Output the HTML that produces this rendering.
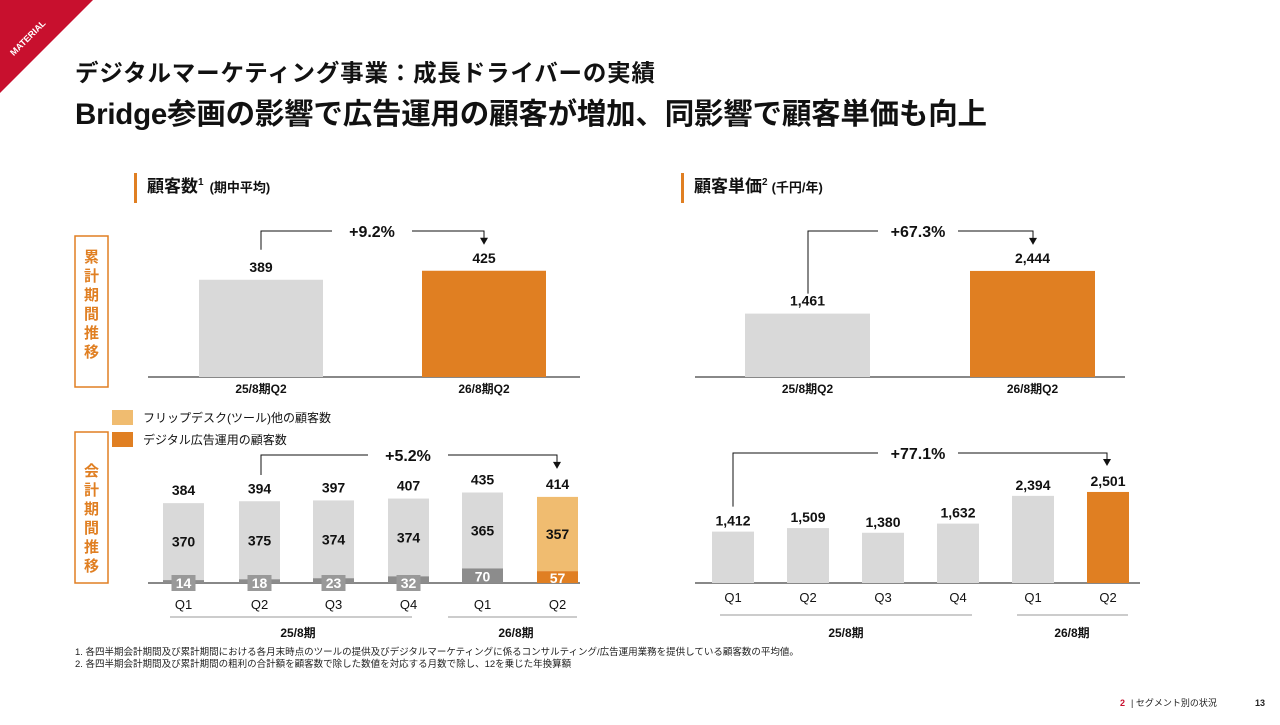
<!DOCTYPE html>
<html><head><meta charset="utf-8">
<style>
html,body{margin:0;padding:0;background:#fff;}
body{width:1280px;height:720px;overflow:hidden;font-family:"Liberation Sans","Noto Sans CJK JP",sans-serif;}
svg text{font-family:"Liberation Sans","Noto Sans CJK JP",sans-serif;}
</style></head><body>
<svg id="s" width="1280" height="720" viewBox="0 0 1280 720" xmlns="http://www.w3.org/2000/svg">
<polygon points="0,0 93,0 0,93" fill="#c8102e"/>
<text x="30" y="40" transform="rotate(-45 30 40)" font-size="9" font-weight="bold" fill="#fff" text-anchor="middle">MATERIAL</text>
<text x="75" y="81" font-size="23.5" font-weight="bold" fill="#111" textLength="580">デジタルマーケティング事業：成長ドライバーの実績</text>
<text x="75" y="124" font-size="29.5" font-weight="bold" fill="#111" textLength="912">Bridge参画の影響で広告運用の顧客が増加、同影響で顧客単価も向上</text>

<rect x="134" y="173" width="3" height="30" fill="#e07f22"/>
<text x="147" y="192" font-size="17" font-weight="bold" fill="#111">顧客数<tspan font-size="10" dy="-7">1</tspan><tspan font-size="13" dy="7" dx="6">(期中平均)</tspan></text>
<rect x="681" y="173" width="3" height="30" fill="#e07f22"/>
<text x="694" y="192" font-size="17" font-weight="bold" fill="#111">顧客単価<tspan font-size="10" dy="-7">2</tspan><tspan font-size="13" dy="7" dx="4">(千円/年)</tspan></text>

<rect x="75" y="236" width="33" height="151" fill="none" stroke="#e07f22" stroke-width="1.5"/>
<text x="91.5" y="262" font-size="15" font-weight="bold" fill="#e07f22" text-anchor="middle"><tspan x="91.5" dy="0">累</tspan><tspan x="91.5" dy="19">計</tspan><tspan x="91.5" dy="19">期</tspan><tspan x="91.5" dy="19">間</tspan><tspan x="91.5" dy="19">推</tspan><tspan x="91.5" dy="19">移</tspan></text>
<rect x="75" y="432" width="33" height="151" fill="none" stroke="#e07f22" stroke-width="1.5"/>
<text x="91.5" y="476" font-size="15" font-weight="bold" fill="#e07f22" text-anchor="middle"><tspan x="91.5" dy="0">会</tspan><tspan x="91.5" dy="19">計</tspan><tspan x="91.5" dy="19">期</tspan><tspan x="91.5" dy="19">間</tspan><tspan x="91.5" dy="19">推</tspan><tspan x="91.5" dy="19">移</tspan></text>

<rect x="112" y="410" width="21" height="15" fill="#f0bc70"/>
<text x="143" y="422" font-size="12" fill="#111">フリップデスク(ツール)他の顧客数</text>
<rect x="112" y="432" width="21" height="15" fill="#e07f22"/>
<text x="143" y="444" font-size="12" fill="#111">デジタル広告運用の顧客数</text>

<g id="charts"></g>

<text x="75" y="655" font-size="9.5" fill="#222">1. 各四半期会計期間及び累計期間における各月末時点のツールの提供及びデジタルマーケティングに係るコンサルティング/広告運用業務を提供している顧客数の平均値。</text>
<text x="75" y="667" font-size="9.5" fill="#222">2. 各四半期会計期間及び累計期間の粗利の合計額を顧客数で除した数値を対応する月数で除し、12を乗じた年換算額</text>
<text x="1120" y="706" font-size="9" font-weight="bold" fill="#c8102e">2</text>
<text x="1131" y="706" font-size="9" fill="#222">|  セグメント別の状況</text>
<text x="1255" y="706" font-size="9" font-weight="bold" fill="#222">13</text>
</svg>
<script>
const cumCats = ["25/8期Q2","26/8期Q2"];
const cumCustomers = [389,425];
const cumPrice = [1461,2444];
const qCats = ["Q1","Q2","Q3","Q4","Q1","Q2"];
const qTotal = [384,394,397,407,435,414];
const qTool = [370,375,374,374,365,357];
const qAds = [14,18,23,32,70,57];
const qPrice = [1412,1509,1380,1632,2394,2501];
const growthLabels = ["+9.2%","+67.3%","+5.2%","+77.1%"];

const NS="http://www.w3.org/2000/svg";
const G=document.getElementById('charts');
function el(t,a,txt){const e=document.createElementNS(NS,t);for(const k in a)e.setAttribute(k,a[k]);if(txt!==undefined)e.textContent=txt;G.appendChild(e);return e;}
const fmt=v=>v.toLocaleString('en-US');
const GRAY="#d9d9d9",DARK="#8c8c8c",OR="#e07f22",LOR="#f0bc70";

function bracket(x1,y1,x2,yTop,yEnd,label,tx,name){
  const p=el('path',{d:`M${x1},${y1} V${yTop} H${tx-40} M${tx+40},${yTop} H${x2} V${yEnd-6}`,fill:'none',stroke:'#111','stroke-width':1});
  
  
  const a=el('polygon',{points:`${x2-4},${yEnd-7} ${x2+4},${yEnd-7} ${x2},${yEnd}`,fill:'#111'});
  
  
  const t=el('text',{x:tx,y:yTop+6,'font-size':16,'font-weight':'bold','text-anchor':'middle',fill:'#111'},label);
  
  
}

function cumChart(x0,x1,vals,scale,xs,w,name){
  const base=377;
  const ax=el('line',{x1:x0,x2:x1,y1:base,y2:base,stroke:'#111','stroke-width':1});
  
  
  vals.forEach((v,i)=>{
    const h=v*scale;
    const r=el('rect',{x:xs[i],y:base-h,width:w,height:h,fill:i===vals.length-1?OR:GRAY});
    
    
    const t=el('text',{x:xs[i]+w/2,y:base-h-8,'font-size':14,'font-weight':'bold','text-anchor':'middle',fill:'#111'},fmt(v));
    
    
    const c=el('text',{x:xs[i]+w/2,y:393,'font-size':12,'font-weight':'bold','text-anchor':'middle',fill:'#111'},cumCats[i]);
    
    
  });
}
cumChart(148,580,cumCustomers,0.25,[199,422],124,'cum-customers');
cumChart(695,1125,cumPrice,0.0434,[745,970],125,'cum-price');
bracket(261,377-cumCustomers[0]*0.25-30,484,231,377-cumCustomers[1]*0.25-26,growthLabels[0],372,'growth-cum-customers');
bracket(808,377-cumPrice[0]*0.0434-20,1033,231,377-cumPrice[1]*0.0434-26,growthLabels[1],918,'growth-cum-price');

(function(){
  const base=583,s=0.208,w=41,xs=[163,239,313,388,462,537];
  const ax=el('line',{x1:148,x2:580,y1:base,y2:base,stroke:'#111','stroke-width':1});
  
  
  qTotal.forEach((tot,i)=>{
    const last=i===qTotal.length-1;
    const ha=qAds[i]*s, ht=qTool[i]*s;
    const rt=el('rect',{x:xs[i],y:base-ha-ht,width:w,height:ht,fill:last?LOR:GRAY});
    
    
    const ra=el('rect',{x:xs[i],y:base-ha,width:w,height:ha,fill:last?OR:DARK});
    
    
    const cx=xs[i]+w/2;
    const tt=el('text',{x:cx,y:base-ha-ht-8,'font-size':14,'font-weight':'bold','text-anchor':'middle',fill:'#111'},tot);
    
    
    const tm=el('text',{x:cx,y:base-ha-ht/2+5,'font-size':14,'font-weight':'bold','text-anchor':'middle',fill:'#111'},qTool[i]);
    
    
    if(qAds[i]<40){
      const bx=el('rect',{x:cx-12,y:base-8,width:24,height:16,fill:'#999'});
      
      
    }
    const ta=el('text',{x:cx,y:qAds[i]<40?base+5:base-ha/2+6,'font-size':14,'font-weight':'bold','text-anchor':'middle',fill:'#fff'},qAds[i]);
    
    
    const q=el('text',{x:cx,y:609,'font-size':13,'text-anchor':'middle',fill:'#111'},qCats[i]);
    
    
  });
  const l1=el('line',{x1:170,x2:412,y1:617,y2:617,stroke:'#999','stroke-width':1});
  
  
  const l2=el('line',{x1:448,x2:577,y1:617,y2:617,stroke:'#999','stroke-width':1});
  
  
  const g1=el('text',{x:298,y:637,'font-size':12,'font-weight':'bold','text-anchor':'middle',fill:'#111'},'25/8期');
  
  
  const g2=el('text',{x:516,y:637,'font-size':12,'font-weight':'bold','text-anchor':'middle',fill:'#111'},'26/8期');
  
  
  bracket(261,base-qTotal[1]*s-26,557,455,base-qTotal[5]*s-28,growthLabels[2],408,'growth-q-customers');
})();

(function(){
  const base=583,s=0.0364,w=42,xs=[712,787,862,937,1012,1087];
  const ax=el('line',{x1:695,x2:1140,y1:base,y2:base,stroke:'#111','stroke-width':1});
  
  
  qPrice.forEach((v,i)=>{
    const h=v*s;
    const r=el('rect',{x:xs[i],y:base-h,width:w,height:h,fill:i===qPrice.length-1?OR:GRAY});
    
    
    const t=el('text',{x:xs[i]+w/2,y:base-h-6,'font-size':14,'font-weight':'bold','text-anchor':'middle',fill:'#111'},fmt(v));
    
    
    const q=el('text',{x:xs[i]+w/2,y:602,'font-size':13,'text-anchor':'middle',fill:'#111'},qCats[i]);
    
    
  });
  const l1=el('line',{x1:720,x2:972,y1:615,y2:615,stroke:'#999','stroke-width':1});
  
  
  const l2=el('line',{x1:1017,x2:1128,y1:615,y2:615,stroke:'#999','stroke-width':1});
  
  
  const g1=el('text',{x:846,y:637,'font-size':12,'font-weight':'bold','text-anchor':'middle',fill:'#111'},'25/8期');
  
  
  const g2=el('text',{x:1072,y:637,'font-size':12,'font-weight':'bold','text-anchor':'middle',fill:'#111'},'26/8期');
  
  
  bracket(733,base-qPrice[0]*s-25,1107,453,base-qPrice[5]*s-26,growthLabels[3],918,'growth-q-price');
})();
</script>
</body></html>
